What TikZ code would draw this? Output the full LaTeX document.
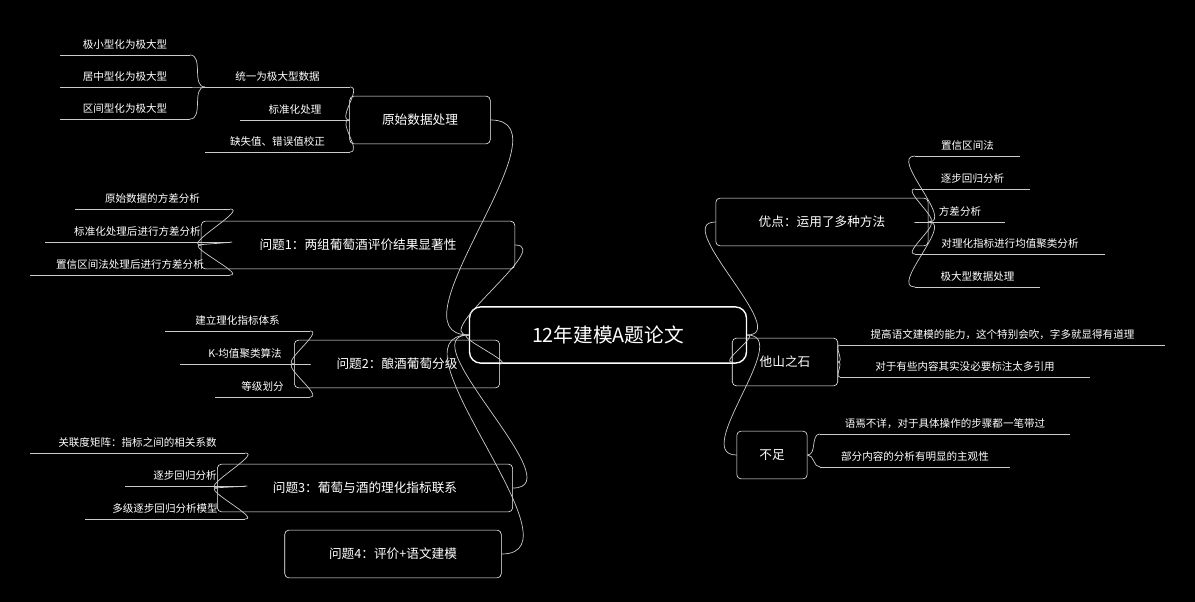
\documentclass[tikz,border=0pt]{standalone}
\usepackage{fontspec}
\setmainfont{Noto Sans CJK SC}
\usetikzlibrary{calc}
\tikzset{
  topic/.style={draw=white,rounded corners=3pt,text=white,inner sep=0pt,font=\fontsize{9}{10}\selectfont},
  leaf/.style={text=white,font=\fontsize{7.5}{9}\selectfont,inner sep=0pt},
  link/.style={draw=white!80!black,line width=0.5pt}
}
\begin{document}
\begin{tikzpicture}[x=0.025cm,y=-0.025cm]
  \fill[black] (0,0) rectangle (1195,602);
  \useasboundingbox (0,0) rectangle (1195,602);

  % root and main topics
  \node[topic,minimum width=197,minimum height=40,line width=1pt,rounded corners=8pt,font=\fontsize{14}{16}\selectfont] (root) at (608,335) {12年建模A题论文};
  \node[topic,minimum width=100,minimum height=34] (raw) at (420,120) {原始数据处理};
  \node[topic,minimum width=223,minimum height=34] (q1) at (358,245) {问题1：两组葡萄酒评价结果显著性};
  \node[topic,minimum width=146,minimum height=34] (q2) at (397,364) {问题2：酿酒葡萄分级};
  \node[topic,minimum width=210,minimum height=34] (q3) at (365,488) {问题3：葡萄与酒的理化指标联系};
  \node[topic,minimum width=154,minimum height=34] (q4) at (393,554) {问题4：评价+语文建模};
  \node[topic,minimum width=151,minimum height=34] (pro) at (822,222) {优点：运用了多种方法};
  \node[topic,minimum width=75,minimum height=34] (ref) at (785,362) {他山之石};
  \node[topic,minimum width=50,minimum height=34] (con) at (772,455) {不足};

  \foreach \t in {raw,q1,q2,q3,q4}
    \draw[link] (root.west) to[out=180,in=0] (\t.east);
  \foreach \t in {pro,ref,con}
    \draw[link] (root.east) to[out=0,in=180] (\t.west);

  % left leaves: name/left/right/y/text/parent
  \foreach \n/\a/\b/\y/\txt/\p in {
      u1/205/350/87/统一为极大型数据/raw.west,
      u2/240/350/120/标准化处理/raw.west,
      u3/205/350/152/缺失值、错误值校正/raw.west,
      s1/60/190/55/极小型化为极大型/u1a,
      s2/60/190/87/居中型化为极大型/u1a,
      s3/60/190/119/区间型化为极大型/u1a,
      a1/75/230/209/原始数据的方差分析/q1.west,
      a2/45/230/242/标准化处理后进行方差分析/q1.west,
      a3/30/230/275/置信区间法处理后进行方差分析/q1.west,
      b1/165/310/331/建立理化指标体系/q2.west,
      b2/180/310/364/K-均值聚类算法/q2.west,
      b3/215/310/397/等级划分/q2.west,
      c1/30/245/453/关联度矩阵：指标之间的相关系数/q3.west,
      c2/125/245/486/逐步回归分析/q3.west,
      c3/85/245/519/多级逐步回归分析模型/q3.west}{
    \coordinate (\n a) at (\a,\y);
    \coordinate (\n b) at (\b,\y);
    \draw[link] (\n a) -- (\n b);
    \node[leaf,anchor=south] (\n) at ($(\n a)!0.5!(\n b)+(0,-5)$) {\txt};
    \draw[link] (\p) to[out=180,in=0] (\n b);
  }

  % right leaves
  \foreach \n/\a/\b/\y/\txt/\p in {
      r1/915/1020/156/置信区间法/pro.east,
      r2/915/1030/189/逐步回归分析/pro.east,
      r3/915/1005/222/方差分析/pro.east,
      r4/915/1105/254/对理化指标进行均值聚类分析/pro.east,
      r5/915/1040/287/极大型数据处理/pro.east,
      t1/840/1165/345/提高语文建模的能力，这个特别会吹，字多就显得有道理/ref.east,
      t2/840/1090/377/对于有些内容其实没必要标注太多引用/ref.east,
      d1/820/1070/434/语焉不详，对于具体操作的步骤都一笔带过/con.east,
      d2/820/1010/467/部分内容的分析有明显的主观性/con.east}{
    \coordinate (\n a) at (\a,\y);
    \coordinate (\n b) at (\b,\y);
    \draw[link] (\n a) -- (\n b);
    \node[leaf,anchor=south] (\n) at ($(\n a)!0.5!(\n b)+(0,-5)$) {\txt};
    \draw[link] (\p) to[out=0,in=180] (\n a);
  }
\end{tikzpicture}
\end{document}
